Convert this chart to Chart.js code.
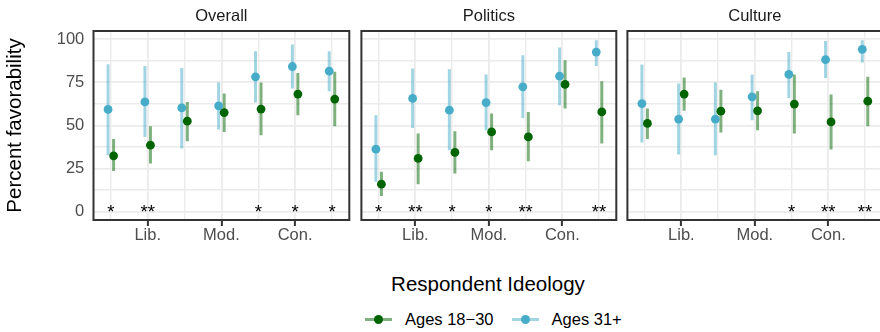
<!DOCTYPE html>
<html>
<head>
<meta charset="utf-8">
<script src="https://cdn.jsdelivr.net/npm/chart.js@4.4.0/dist/chart.umd.min.js"></script>
<style>
  body { margin: 0; width: 880px; height: 332px; overflow: hidden; background: #fff; position: relative; font-family: "Liberation Sans", Arial, sans-serif; }
  .panel { position: absolute; top: 0; }
  #xtitle { position: absolute; left: 93px; width: 790px; top: 273px; text-align: center; font-size: 20.5px; line-height: 21px; color: #000; }
  #legend { position: absolute; left: 365px; top: 309px; height: 20px; display: flex; align-items: center; font-size: 16.5px; color: #000; white-space: nowrap; }
  .key { position: relative; width: 27px; height: 18px; margin-right: 13px; }
  .key .ln { position: absolute; left: 0; right: 0; top: 7.5px; height: 3px; }
  .key .dot { position: absolute; left: 9px; top: 4.5px; width: 9px; height: 9px; border-radius: 50%; }
  .item2 { margin-left: 18px; }
</style>
</head>
<body>
<div class="panel" style="left:0px"><canvas id="overall" width="356" height="262"></canvas></div>
<div class="panel" style="left:357px"><canvas id="politics" width="266" height="262"></canvas></div>
<div class="panel" style="left:623px"><canvas id="culture" width="266" height="262"></canvas></div>
<div id="xtitle">Respondent Ideology</div>
<div id="legend">
  <div class="key"><div class="ln" style="background:rgba(0,100,0,0.5)"></div><div class="dot" style="background:#006400"></div></div>
  <span>Ages 18−30</span>
  <div class="key item2"><div class="ln" style="background:rgba(70,172,200,0.5)"></div><div class="dot" style="background:#46acc8"></div></div>
  <span>Ages 31+</span>
</div>
<script>
// ideology positions 1..7 and labelled ticks
const positions = [1, 2, 3, 4, 5, 6, 7];
const tickPositions = [2, 4, 6];
const tickLabels = ["Lib.", "Mod.", "Con."];
const yGrid = [0, 12.5, 25, 37.5, 50, 62.5, 75, 87.5, 100];
const yLabels = [0, 25, 50, 75, 100];

// Overall
const overallYoung = [32.4, 38.6, 52.5, 57.5, 59.5, 68.2, 65.3];
const overallYoungLo = [23.6, 28.0, 40.9, 46.3, 44.4, 56.0, 49.6];
const overallYoungHi = [42.1, 49.6, 63.7, 68.5, 74.9, 80.5, 81.1];
const overallOld = [59.3, 63.7, 60.2, 61.4, 78.2, 84.2, 81.5];
const overallOldLo = [32.8, 43.4, 36.7, 47.7, 63.3, 71.4, 69.9];
const overallOldHi = [85.5, 84.5, 83.4, 74.9, 93.1, 96.9, 93.1];
const overallStars = ["*", "**", "", "", "*", "*", "*"];

// Politics
const politicsYoung = [16.0, 30.9, 34.4, 46.3, 43.4, 73.8, 57.9];
const politicsYoungLo = [9.1, 15.9, 22.2, 35.7, 29.3, 59.9, 39.6];
const politicsYoungHi = [23.2, 45.4, 46.7, 57.0, 57.9, 87.8, 75.7];
const politicsOld = [36.3, 65.7, 58.9, 63.3, 72.4, 78.6, 92.6];
const politicsOldLo = [17.4, 48.6, 35.7, 47.3, 54.4, 61.8, 84.5];
const politicsOldHi = [56.0, 83.0, 82.6, 79.6, 90.7, 95.2, 99.4];
const politicsStars = ["*", "**", "*", "*", "**", "", "**"];

// Culture
const cultureYoung = [51.2, 68.2, 58.3, 58.5, 62.4, 52.1, 64.1];
const cultureYoungLo = [42.1, 58.5, 46.0, 47.3, 45.4, 36.1, 49.6];
const cultureYoungHi = [59.9, 77.8, 70.8, 69.9, 79.6, 68.0, 78.2];
const cultureOld = [62.7, 53.7, 53.7, 66.6, 79.6, 88.2, 94.2];
const cultureOldLo = [40.2, 33.2, 32.8, 53.1, 66.0, 77.6, 86.5];
const cultureOldHi = [85.4, 74.3, 74.9, 79.6, 92.6, 99.0, 99.4];
const cultureStars = ["", "", "", "", "*", "**", "**"];

const GREEN = "#006400";
const GREEN_BAR = "rgba(0,100,0,0.5)";
const BLUE = "#46acc8";
const BLUE_BAR = "rgba(70,172,200,0.5)";
const DODGE = 0.075;
const FONT = '"Liberation Sans", Arial, sans-serif';

// points for one group
function pointData(est, shift) {
    return est.map((v, i) => ({ x: positions[i] + shift, y: v }));
}

// vertical interval segments separated by gaps
function barData(lo, hi, shift) {
    const out = [];
    for (let i = 0; i < lo.length; i++) {
        out.push({ x: positions[i] + shift, y: lo[i] });
        out.push({ x: positions[i] + shift, y: hi[i] });
        out.push({ x: positions[i] + shift, y: null });
    }
    return out;
}

// frame, strip label and stars
const panelDecor = {
    id: "panelDecor",
    afterDatasetsDraw(chart, args, opts) {
        const { ctx, chartArea: a, scales: { x, y } } = chart;
        ctx.save();
        ctx.fillStyle = "#000";
        ctx.textAlign = "center";
        ctx.font = "18.5px " + FONT;
        ctx.textBaseline = "alphabetic";
        opts.stars.forEach((s, i) => {
            if (s) ctx.fillText(s, x.getPixelForValue(positions[i]), y.getPixelForValue(0) + 6.6);
        });
        ctx.strokeStyle = "#333333";
        ctx.lineWidth = 2;
        ctx.strokeRect(a.left, a.top, a.right - a.left, a.bottom - a.top);
        ctx.fillStyle = "#1a1a1a";
        ctx.font = "16.5px " + FONT;
        ctx.textBaseline = "middle";
        ctx.fillText(opts.title, (a.left + a.right) / 2, 16);
        ctx.restore();
    }
};

function makePanel(id, title, young, youngLo, youngHi, old, oldLo, oldHi, stars, first) {
    const yWidth = first ? 93.5 : 3.7;
    new Chart(document.getElementById(id), {
        type: "scatter",
        data: {
            datasets: [
                { data: pointData(young, DODGE), backgroundColor: GREEN, borderWidth: 0, pointRadius: 4.4 },
                { data: pointData(old, -DODGE), backgroundColor: BLUE, borderWidth: 0, pointRadius: 4.4 },
                { data: barData(youngLo, youngHi, DODGE), showLine: true, spanGaps: false, borderColor: GREEN_BAR, borderWidth: 3, pointRadius: 0, borderCapStyle: "butt" },
                { data: barData(oldLo, oldHi, -DODGE), showLine: true, spanGaps: false, borderColor: BLUE_BAR, borderWidth: 3, pointRadius: 0, borderCapStyle: "butt" }
            ]
        },
        options: {
            responsive: false,
            devicePixelRatio: 1,
            animation: false,
            events: [],
            layout: { padding: { top: 31, right: 6.7, bottom: 0, left: 0 } },
            plugins: {
                legend: { display: false },
                tooltip: { enabled: false },
                panelDecor: { stars: stars, title: title }
            },
            scales: {
                x: {
                    type: "linear",
                    min: 0.53,
                    max: 7.47,
                    afterBuildTicks: s => { s.ticks = positions.map(v => ({ value: v })); },
                    afterFit: s => { s.height = 42; },
                    border: { display: false },
                    grid: {
                        color: "#ebebeb",
                        lineWidth: c => (c.tick && tickPositions.includes(c.tick.value)) ? 1.8 : 1.4,
                        tickLength: 6,
                        tickWidth: 2,
                        tickColor: c => (c.tick && tickPositions.includes(c.tick.value)) ? "#333333" : "rgba(0,0,0,0)"
                    },
                    ticks: {
                        padding: 0,
                        maxRotation: 0,
                        autoSkip: false,
                        color: "#4d4d4d",
                        font: { family: FONT, size: 16.5 },
                        callback: v => {
                            const k = tickPositions.indexOf(v);
                            return k >= 0 ? tickLabels[k] : "";
                        }
                    }
                },
                y: {
                    min: -4.8,
                    max: 104.8,
                    afterBuildTicks: s => { s.ticks = yGrid.map(v => ({ value: v })); },
                    afterFit: s => { s.width = yWidth; },
                    border: { display: false },
                    grid: {
                        color: "#ebebeb",
                        drawTicks: false,
                        lineWidth: c => (c.tick && yLabels.includes(c.tick.value)) ? 1.8 : 1.4
                    },
                    ticks: {
                        display: first,
                        padding: 9.2,
                        autoSkip: false,
                        color: "#4d4d4d",
                        font: { family: FONT, size: 16.5 },
                        callback: v => yLabels.includes(v) ? String(v) : ""
                    },
                    title: {
                        display: first,
                        text: "Percent favorability",
                        color: "#000",
                        font: { family: FONT, size: 20.5, lineHeight: 1.2 },
                        padding: { top: 3.5, bottom: 0 }
                    }
                }
            }
        },
        plugins: [panelDecor]
    });
}

makePanel("overall", "Overall", overallYoung, overallYoungLo, overallYoungHi, overallOld, overallOldLo, overallOldHi, overallStars, true);
makePanel("politics", "Politics", politicsYoung, politicsYoungLo, politicsYoungHi, politicsOld, politicsOldLo, politicsOldHi, politicsStars, false);
makePanel("culture", "Culture", cultureYoung, cultureYoungLo, cultureYoungHi, cultureOld, cultureOldLo, cultureOldHi, cultureStars, false);
</script>
</body>
</html>
